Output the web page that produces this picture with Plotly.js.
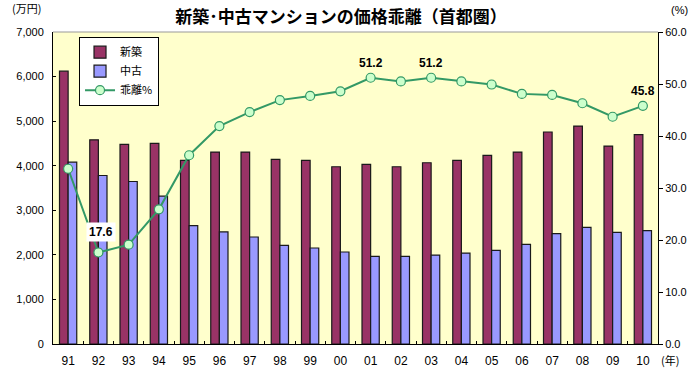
<!DOCTYPE html>
<html><head><meta charset="utf-8">
<script src="https://cdn.plot.ly/plotly-3.0.1.min.js"></script>
<style>html,body{margin:0;padding:0;background:#fff}#chart{width:700px;height:373px}</style>
</head><body><div id="chart"></div>
<script>
var years = ["91","92","93","94","95","96","97","98","99","00","01","02","03","04","05","06","07","08","09","10"];
var shinchiku = [6120,4580,4480,4500,4120,4305,4305,4140,4120,3977,4030,3977,4067,4120,4230,4305,4756,4890,4440,4697];
var chuko = [4080,3781,3646,3316,2656,2514,2401,2213,2154,2064,1965,1965,1996,2041,2100,2235,2476,2618,2505,2543];
var kairi = [33.7,17.6,19.1,25.9,36.3,41.9,44.6,46.9,47.7,48.6,51.2,50.5,51.2,50.5,49.9,48.1,47.9,46.3,43.7,45.8];
var labeledIdx = [1,10,12,19];
var seriesNames = ["新築","中古","乖離%"];

var F = "Arial, 'Liberation Sans', 'Noto Sans CJK JP', sans-serif";
var JF = "'Noto Sans CJK JP', sans-serif";

var traces = [
  {type:"bar", x:years, y:shinchiku, name:seriesNames[0],
   marker:{color:"#993366", line:{color:"#1a1a1a", width:1.2}}},
  {type:"bar", x:years, y:chuko, name:seriesNames[1],
   marker:{color:"#9999FF", line:{color:"#1a1a1a", width:1.2}}},
  {type:"scatter", mode:"lines+markers", x:years, y:kairi, yaxis:"y2", name:seriesNames[2],
   line:{color:"#339966", width:2},
   marker:{size:9, color:"#CCFFCC", line:{color:"#339966", width:1.2}}}
];

var annotations = labeledIdx.map(function(i){
  var a = {x:i, y:kairi[i], xref:"x", yref:"y2", text:"<b>"+kairi[i].toFixed(1)+"</b>",
    showarrow:false, yshift:15, font:{family:F, size:12, color:"#000"}};
  if (i === 1) { a.yshift = 20; a.xshift = 3; a.bgcolor = "#ffffff"; a.borderpad = 2; }
  return a;
});
annotations.push({xref:"paper", yref:"paper", x:-0.043, y:1.045, xanchor:"center", yanchor:"bottom",
  text:"(万円)", showarrow:false, font:{family:JF, size:11, color:"#000"}});
annotations.push({xref:"paper", yref:"paper", x:1.035, y:1.045, xanchor:"center", yanchor:"bottom",
  text:"(%)", showarrow:false, font:{family:F, size:11, color:"#000"}});
annotations.push({xref:"paper", yref:"paper", x:1.02, y:-0.05, xanchor:"center", yanchor:"middle",
  text:"(年)", showarrow:false, font:{family:JF, size:11, color:"#000"}});

var layout = {
  width:700, height:373,
  margin:{l:53, r:42, t:32, b:29},
  paper_bgcolor:"#ffffff", plot_bgcolor:"#FFFFCC",
  title:{text:"<b>新築･中古マンションの価格乖離（首都圏）</b>", x:0.487, xanchor:"center", y:0.953, yanchor:"middle",
    font:{family:JF, size:17, color:"#000"}},
  barmode:"group", bargap:0.43, bargroupgap:0,
  showlegend:true,
  legend:{x:0.043, y:0.985, xanchor:"left", yanchor:"top", bgcolor:"#ffffff", bordercolor:"#000", borderwidth:1,
    font:{family:JF, size:11, color:"#000"}, tracegroupgap:0, itemwidth:30},
  xaxis:{type:"category", range:[-0.5, 19.5], autorange:false, showline:true, linecolor:"#000", linewidth:1, mirror:false,
    ticks:"inside", tickson:"boundaries", ticklen:3, tickcolor:"#000", ticklabelstandoff:6,
    tickfont:{family:F, size:12, color:"#000"}, showgrid:false, tickangle:0},
  yaxis:{range:[0,7000], dtick:1000, tickformat:",d", showline:true, linecolor:"#000", linewidth:1,
    ticks:"inside", ticklen:3, tickcolor:"#000", showgrid:false, zeroline:false, ticklabelstandoff:6,
    tickfont:{family:F, size:11, color:"#000"}},
  yaxis2:{range:[0,60], dtick:10, tickformat:".1f", overlaying:"y", side:"right", showline:true, linecolor:"#000", linewidth:1,
    ticks:"outside", ticklen:4, tickcolor:"#000", showgrid:false, zeroline:false,
    tickfont:{family:F, size:11, color:"#000"}},
  shapes:[{type:"line", xref:"paper", yref:"paper", x0:0, x1:1, y0:1, y1:1, line:{color:"#999", width:1}}],
  annotations:annotations
};
Plotly.newPlot("chart", traces, layout, {displayModeBar:false, staticPlot:true});
</script></body></html>
